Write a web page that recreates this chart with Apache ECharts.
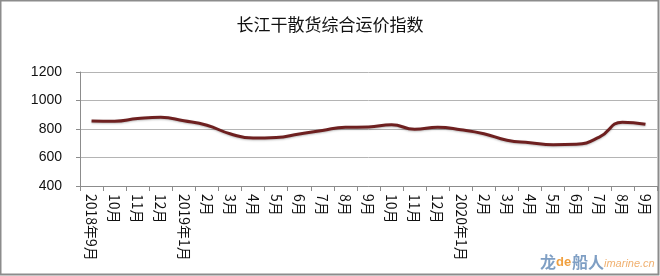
<!DOCTYPE html>
<html>
<head>
<meta charset="utf-8">
<script src="https://cdn.jsdelivr.net/npm/echarts@6/dist/echarts.min.js"></script>
<style>html,body{margin:0;padding:0;background:#fff;}#c{width:660px;height:276px;}</style>
</head>
<body>
<div id="c"></div>
<script>
var categories = ['2018年9月','10月','11月','12月','2019年1月','2月','3月','4月','5月','6月','7月','8月','9月','10月','11月','12月','2020年1月','2月','3月','4月','5月','6月','7月','8月','9月'];
var values = [857, 855, 873, 882, 858, 826, 767, 736, 740, 765, 790, 812, 814, 830, 798, 812, 795, 767, 721, 704, 690, 693, 743, 848, 833];
var titleText = '长江干散货综合运价指数';
var yMin = 400, yMax = 1200, yStep = 200;

var chart = echarts.init(document.getElementById('c'), null, {renderer: 'canvas'});
chart.setOption({
  animation: false,
  backgroundColor: '#fff',
  title: {
    text: titleText,
    left: 'center',
    top: 11,
    textStyle: {fontFamily: 'Noto Sans CJK SC', fontSize: 17, fontWeight: 'normal', color: '#111'}
  },
  grid: {left: 80, right: 3, top: 72, bottom: 90, containLabel: false},
  xAxis: {
    type: 'category',
    data: categories,
    boundaryGap: true,
    axisLine: {lineStyle: {color: '#8c8c8c', width: 1}},
    axisTick: {show: true, length: 5, lineStyle: {color: '#8c8c8c'}},
    axisLabel: {
      rotate: -90,
      interval: 0,
      margin: 8,
      fontFamily: 'Noto Sans CJK SC',
      fontSize: 14,
      color: '#111'
    }
  },
  yAxis: {
    type: 'value',
    min: yMin, max: yMax, interval: yStep,
    axisLine: {show: true, lineStyle: {color: '#8c8c8c', width: 1}},
    axisTick: {show: true, length: 4, lineStyle: {color: '#8c8c8c'}},
    splitLine: {lineStyle: {color: '#b4b4b4', width: 1}},
    axisLabel: {fontFamily: 'Liberation Sans', fontSize: 14, color: '#111', margin: 18, formatter: function (v) { return String(v); }}
  },
  series: [{
    type: 'line',
    data: values,
    smooth: true,
    symbol: 'none',
    lineStyle: {color: '#6e2020', width: 3, shadowColor: 'rgba(0,0,0,0.25)', shadowBlur: 2, shadowOffsetY: 1}
  }],
  graphic: [
    {type: 'rect', shape: {x: 0.5, y: 0.5, width: 658, height: 274}, style: {fill: 'none', stroke: '#8c8c8c', lineWidth: 2}, z: 100},
    {type: 'text', left: 540, top: 254, style: {text: '龙', fill: '#7f9fc4', font: 'bold 16px "Noto Sans CJK SC"'}},
    {type: 'text', left: 556, top: 256, style: {text: 'de', fill: '#f0a040', font: 'bold 13px "Liberation Sans"'}},
    {type: 'text', left: 572, top: 254, style: {text: '船人', fill: '#7f9fc4', font: 'bold 16px "Noto Sans CJK SC"'}},
    {type: 'text', left: 604, top: 258, style: {text: 'imarine.cn', fill: '#f0b070', font: 'italic 11px "Liberation Sans"'}}
  ]
});
</script>
</body>
</html>
